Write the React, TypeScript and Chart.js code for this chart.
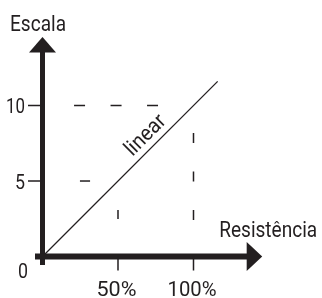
import React, { useEffect, useRef } from "react";
import { Chart, registerables } from "chart.js";

Chart.register(...registerables);

// ---- data ----
const xTicks = [50, 100];
const xTickLabels = ["50%", "100%"];
const yTicks = [5, 10];
const yTickLabels = ["5", "10"];
const originLabel = "0";
const xAxisTitle = "Resistência";
const yAxisTitle = "Escala";
const lineLabel = "linear";

const linearX = [0, 116];
const linearY = [0, 11.6];
const guide10X = [20.9, 76.5];
const guide10Y = [10, 10];
const guide100X = [100, 100];
const guide100Y = [8.18, 2.42];
const dash5X = [24.8, 31.5];
const dash5Y = [5, 5];
const dash50X = [50, 50];
const dash50Y = [3.08, 2.48];
const lineLabelX = 68.5;
const lineLabelY = 8.0;

const xMax = 145.5;
const yMax = 14.54;

// ---- style ----
const INK = "#231f20";
const FONT = "Roboto, 'Noto Sans', sans-serif";
const WORD_FONT = `400 21.5px ${FONT}`;
const NUM_FONT = `400 20px ${FONT}`;

const pts = (xs: number[], ys: number[]) => xs.map((x, i) => ({ x, y: ys[i] }));

// draw text squeezed/stretched horizontally to a target width
function fitText(
  ctx: CanvasRenderingContext2D,
  text: string,
  x: number,
  y: number,
  width: number,
  align: "left" | "center" | "right"
) {
  const w = ctx.measureText(text).width || 1;
  const k = width / w;
  ctx.save();
  ctx.translate(x, y);
  ctx.scale(k, 1);
  ctx.textAlign = align;
  ctx.fillText(text, 0, 0);
  ctx.restore();
}

const yLabelWidths = [10, 19];
const xLabelWidths = [40, 49];

const axesPlugin = {
  id: "diagramAxes",
  afterDatasetsDraw(chart: any) {
    const ctx = chart.ctx as CanvasRenderingContext2D;
    const xs = chart.scales.x;
    const ys = chart.scales.y;
    const ox = xs.getPixelForValue(0);
    const oy = ys.getPixelForValue(0);
    const xTip = xs.getPixelForValue(xMax);
    const yTip = ys.getPixelForValue(yMax);
    const headLen = 15.5;
    const headHalf = 13.5;
    ctx.save();
    ctx.fillStyle = INK;
    ctx.strokeStyle = INK;

    // axis shafts
    ctx.fillRect(ox - 2.5, yTip + headLen - 1, 5, oy + 8.5 - (yTip + headLen - 1));
    ctx.fillRect(ox - 7.5, oy - 3, xTip - headLen + 1 - (ox - 7.5), 6);

    // arrow heads
    ctx.beginPath();
    ctx.moveTo(ox, yTip);
    ctx.lineTo(ox - headHalf, yTip + headLen);
    ctx.lineTo(ox + headHalf, yTip + headLen);
    ctx.closePath();
    ctx.fill();
    ctx.beginPath();
    ctx.moveTo(xTip, oy);
    ctx.lineTo(xTip - headLen, oy - headHalf - 1);
    ctx.lineTo(xTip - headLen, oy + headHalf + 1);
    ctx.closePath();
    ctx.fill();

    // ticks
    ctx.lineWidth = 1.5;
    ctx.beginPath();
    yTicks.forEach((v) => {
      const py = ys.getPixelForValue(v);
      ctx.moveTo(ox - 14.5, py);
      ctx.lineTo(ox, py);
    });
    xTicks.forEach((v) => {
      const px = xs.getPixelForValue(v);
      ctx.moveTo(px, oy);
      ctx.lineTo(px, oy + 14);
    });
    ctx.stroke();

    // tick labels
    ctx.font = NUM_FONT;
    ctx.textBaseline = "alphabetic";
    yTicks.forEach((v, i) => {
      const py = ys.getPixelForValue(v);
      fitText(ctx, yTickLabels[i], ox - 17.5, py + 7.5, yLabelWidths[i], "right");
    });
    xTicks.forEach((v, i) => {
      const px = xs.getPixelForValue(v);
      fitText(ctx, xTickLabels[i], px - 1.5, oy + 39.5, xLabelWidths[i], "center");
    });
    fitText(ctx, originLabel, ox - 19.5, oy + 21.5, 10, "center");

    // axis titles
    ctx.font = WORD_FONT;
    fitText(ctx, yAxisTitle, ox - 32.5, yTip - 6, 56, "left");
    fitText(ctx, xAxisTitle, xTip - 43, oy - 20, 98, "left");

    // line label
    const lx = xs.getPixelForValue(lineLabelX);
    const ly = ys.getPixelForValue(lineLabelY);
    ctx.translate(lx, ly);
    ctx.rotate(-Math.PI / 4);
    ctx.textBaseline = "middle";
    fitText(ctx, lineLabel, 0, 0, 49, "center");
    ctx.restore();
  },
};

export default function App() {
  const ref = useRef<HTMLCanvasElement | null>(null);
  useEffect(() => {
    if (!ref.current) return;
    const common = { pointRadius: 0, borderColor: INK, clip: false as any, fill: false };
    const chart = new Chart(ref.current, {
      type: "line",
      data: {
        datasets: [
          { ...common, data: pts(linearX, linearY), borderWidth: 1.3 },
          { ...common, data: pts(guide10X, guide10Y), borderWidth: 1.5, borderDash: [11, 25.5] },
          { ...common, data: pts(guide100X, guide100Y), borderWidth: 1.5, borderDash: [10, 28.5] },
          { ...common, data: pts(dash5X, dash5Y), borderWidth: 1.5 },
          { ...common, data: pts(dash50X, dash50Y), borderWidth: 1.5 },
        ],
      },
      options: {
        animation: false,
        responsive: false,
        devicePixelRatio: 1,
        layout: { padding: { left: 42.5, right: 59.8, top: 37, bottom: 41.5 } },
        scales: {
          x: { type: "linear", min: 0, max: xMax, display: false },
          y: { type: "linear", min: 0, max: yMax, display: false },
        },
        plugins: { legend: { display: false }, tooltip: { enabled: false } },
      },
      plugins: [axesPlugin],
    });
    return () => chart.destroy();
  }, []);
  return (
    <div style={{ position: "absolute", left: 0, top: 0, width: 322, height: 298, background: "#fff" }}>
      <canvas ref={ref} width={322} height={298} style={{ width: 322, height: 298 }} />
    </div>
  );
}
